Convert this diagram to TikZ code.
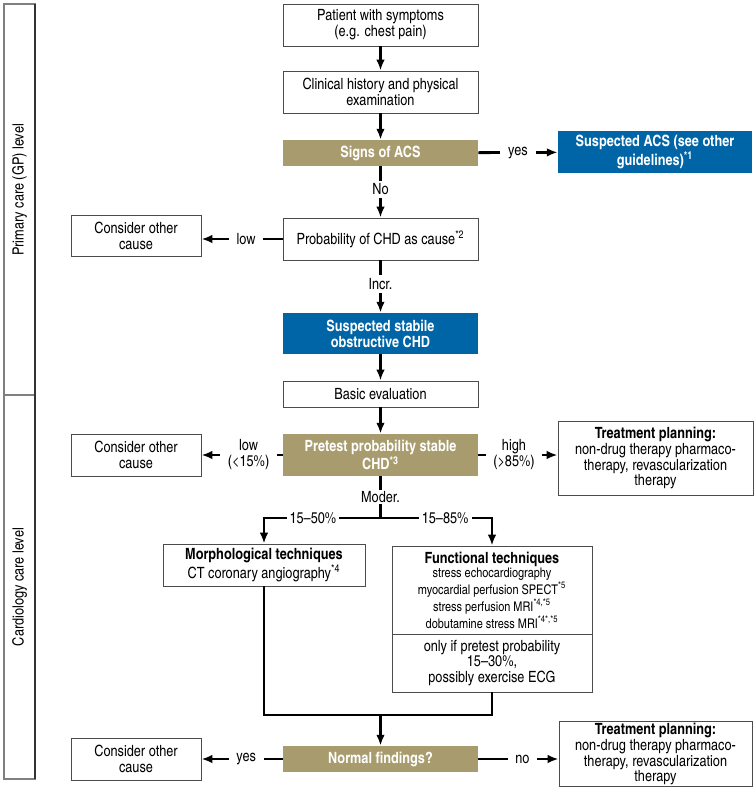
\documentclass[tikz,border=0pt]{standalone}
\usepackage{fontspec}
\setmainfont{texgyreheroscn}[Extension=.otf,UprightFont=*-regular,BoldFont=*-bold,ItalicFont=*-italic,BoldItalicFont=*-bolditalic]
\usetikzlibrary{arrows.meta}
\definecolor{khaki}{RGB}{168,156,110}
\definecolor{acsblue}{RGB}{0,101,166}
\def\u{0.645pt}

\begin{document}
\begin{tikzpicture}[x=\u,y=-\u,
    every node/.style={font=\fontsize{10}{10.3}\selectfont},
    sz/.style 2 args={minimum width=#1*\u,minimum height=#2*\u},
    box/.style={draw=black!70,line width=0.6pt,align=center,inner sep=1pt},
    khakibox/.style={fill=khaki,text=white,align=center,inner sep=1pt,font=\fontsize{10}{10.3}\selectfont\bfseries},
    bluebox/.style={fill=acsblue,text=white,align=center,inner sep=1pt,font=\fontsize{10}{10.3}\selectfont\bfseries},
    lbl/.style={fill=white,align=center,inner xsep=5pt,inner ysep=2pt},
    thk/.style={line width=1.8pt},
    arr/.style={thk,-{Latex[length=7pt,width=5.5pt]}}]
  \useasboundingbox (0,0) rectangle (756,801);
  % care levels
  \draw[black!50,line width=0.8pt] (4,4) rectangle (35,779) (4,395) -- (35,395);
  \draw[black!80,line width=0.8pt] (35,4) -- (35,779);
  \node[rotate=90] (gp) at (19.5,190) {Primary care (GP) level};
  \node[rotate=90] (cardio) at (19.5,587) {Cardiology care level};
  % primary care
  \node[box,sz={195}{42}] (patient) at (380.5,25) {Patient with symptoms\\(e.g. chest pain)};
  \node[box,sz={195}{42}] (clinical) at (380.5,92) {Clinical history and physical\\examination};
  \node[khakibox,sz={195}{26}] (signs) at (380.5,153) {Signs of ACS};
  \node[bluebox,sz={194}{42}] (acs) at (655,152) {Suspected ACS (see other\\guidelines)\textsuperscript{*1}};
  \node[box,sz={195}{42}] (prob) at (380.5,239) {Probability of CHD as cause\textsuperscript{*2}};
  \node[box,sz={130}{41}] (other1) at (136,236) {Consider other\\cause};
  \node[bluebox,sz={195}{41}] (stable) at (380.5,333.5) {Suspected stabile\\obstructive CHD};
  % cardiology care
  \node[box,sz={195}{26}] (basic) at (380.5,394) {Basic evaluation};
  \node[khakibox,sz={195}{42}] (pretest) at (380.5,455) {Pretest probability stable\\CHD\textsuperscript{*3}};
  \node[box,sz={130}{42}] (other2) at (136,455) {Consider other\\cause};
  \node[box,sz={195}{74}] (treat1) at (655.5,458) {\textbf{Treatment planning:}\\non-drug therapy pharmaco-\\therapy, revascularization\\therapy};
  \node[box,sz={202}{42}] (morph) at (264,565) {\textbf{Morphological techniques}\\CT coronary angiography\textsuperscript{*4}};
  \node[box,sz={200}{88},font=\fontsize{8.6}{9}\selectfont] (func) at (492,590)
    {{\fontsize{10}{9}\selectfont\bfseries Functional techniques}\\stress echocardiography\\myocardial perfusion SPECT\textsuperscript{*5}\\stress perfusion MRI\textsuperscript{*4,*5}\\dobutamine stress MRI\textsuperscript{*4*,*5}};
  \node[box,sz={200}{58}] (funcnote) at (492,663) {only if pretest probability\\15--30\%,\\possibly exercise ECG};
  \node[khakibox,sz={195}{26}] (normal) at (380.5,759) {Normal findings?};
  \node[box,sz={130}{42}] (other3) at (136,759) {Consider other\\cause};
  \node[box,sz={193}{64}] (treat2) at (655.5,754) {\textbf{Treatment planning:}\\non-drug therapy pharmaco-\\therapy, revascularization\\therapy};
  \coordinate (split) at (380.5,518);
  \coordinate (join) at (380.5,715);
  % connectors
  \draw[arr] (patient) -- (clinical);
  \draw[arr] (clinical) -- (signs);
  \draw[arr] (signs) -- node[lbl]{yes} (acs);
  \draw[arr] (signs) -- node[lbl,pos=0.45]{No} (prob);
  \draw[arr] (prob.west) -- node[lbl,pos=0.45]{low} (prob.west -| other1.east);
  \draw[arr] (prob) -- node[lbl,pos=0.45]{Incr.} (stable);
  \draw[arr] (stable) -- (basic);
  \draw[arr] (basic) -- (pretest);
  \draw[arr] (pretest) -- node[lbl,pos=0.42]{low\\(<15\%)} (other2);
  \draw[arr] (pretest.east) -- node[lbl,pos=0.45]{high\\(>85\%)} (pretest.east -| treat1.west);
  \draw[thk] (pretest) -- node[lbl,inner ysep=1pt]{Moder.} (split);
  \draw[arr] (split) -| node[lbl,inner xsep=2pt,pos=0.29]{15--50\%} (morph);
  \draw[arr] (split) -| node[lbl,inner xsep=2pt,pos=0.29]{15--85\%} (func);
  \draw[thk] (morph) |- (join) -| (funcnote);
  \draw[arr] (join) -- (normal);
  \draw[arr] (normal) -- node[lbl,pos=0.45]{yes} (other3);
  \draw[arr] (normal.east) -- node[lbl,pos=0.55]{no} (normal.east -| treat2.west);
\end{tikzpicture}
\end{document}
